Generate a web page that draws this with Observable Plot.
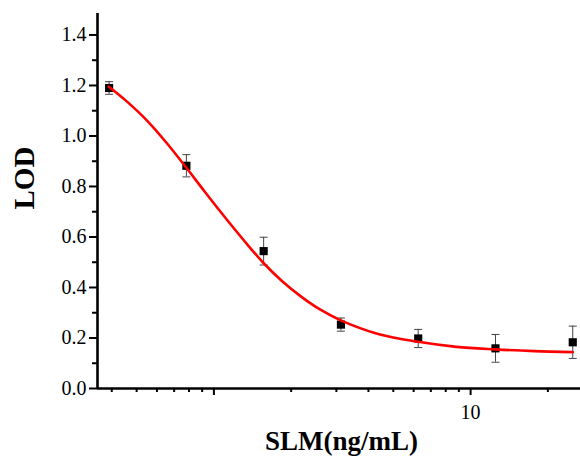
<!DOCTYPE html>
<html>
<head>
<meta charset="utf-8">
<script src="https://cdn.jsdelivr.net/npm/d3@7"></script>
<script src="https://cdn.jsdelivr.net/npm/@observablehq/plot@0.6"></script>
<style>
  html, body { margin: 0; padding: 0; background: #fff; }
  svg, svg text { font-family: "Liberation Serif", "Times New Roman", serif !important; }
</style>
</head>
<body>
<div id="chart"></div>
<script>
// Measured data (concentration in ng/mL, LOD value, error)
const conc = [0.390625, 0.78125, 1.5625, 3.125, 6.25, 12.5, 25];
const lod  = [1.19, 0.882, 0.544, 0.253, 0.198, 0.159, 0.183];
const err  = [0.025, 0.044, 0.055, 0.026, 0.036, 0.055, 0.064];

// Fitted curve
const fitX = [0.39, 0.46, 0.55, 0.65, 0.78, 0.92, 1.1, 1.3, 1.56, 1.85, 2.2, 2.6, 3.12, 4.4, 6.25, 8.8, 12.5, 17.7, 25];
const fitY = [1.195, 1.135, 1.06, 0.976, 0.875, 0.78, 0.68, 0.59, 0.497, 0.424, 0.362, 0.312, 0.27, 0.215, 0.185, 0.165, 0.155, 0.148, 0.144];

// Axes
const xDomain = [0.352, 26.8];
const yDomain = [0, 1.485];
const yTicks = [0, 0.2, 0.4, 0.6, 0.8, 1.0, 1.2, 1.4];
const yMinor = [0.1, 0.3, 0.5, 0.7, 0.9, 1.1, 1.3];
const xMajor = [1, 10];
const xMinor = [0.4, 0.5, 0.6, 0.7, 0.8, 0.9, 2, 3, 4, 5, 6, 7, 8, 9, 20];
const xLabel = "SLM(ng/mL)";
const yLabel = "LOD";

const serif = "Liberation Serif";
const points = conc.map((c, i) => ({conc: c, lod: lod[i], lo: lod[i] - err[i], hi: lod[i] + err[i]}));
const fit = fitX.map((x, i) => ({x, y: fitY[i]}));

const capSymbol = {
  draw(ctx, size) {
    const r = Math.sqrt(size / Math.PI);
    ctx.moveTo(-r, 0);
    ctx.lineTo(r, 0);
  }
};

const chart = Plot.plot({
  width: 580,
  height: 466,
  marginLeft: 97,
  marginRight: 0,
  marginTop: 13,
  marginBottom: 78,
  style: {fontFamily: serif, background: "#fff", color: "#000"},
  x: {type: "log", domain: xDomain},
  y: {domain: yDomain},
  marks: [
    Plot.axisY(yTicks, {tickSize: 8, tickPadding: 3, fontSize: 20, fontFamily: serif, tickFormat: d3.format(".1f"), strokeWidth: 2, label: null}),
    Plot.axisY(yMinor, {tickSize: 5, tickFormat: () => "", strokeWidth: 2, label: null}),
    Plot.axisX(xMinor, {tickSize: 4, tickFormat: () => "", strokeWidth: 2, label: null}),
    Plot.axisX(xMajor, {tickSize: 7, tickPadding: 9, fontSize: 20, fontFamily: serif, tickFormat: d => d === 10 ? "10" : "", strokeWidth: 2, label: null}),
    Plot.ruleY([yDomain[0]], {stroke: "#000", strokeWidth: 2.6}),
    Plot.ruleX([xDomain[0]], {stroke: "#000", strokeWidth: 2.6}),
    Plot.ruleX(points, {x: "conc", y1: "lo", y2: "hi", stroke: "#444", strokeWidth: 1}),
    Plot.dot(points, {x: "conc", y: "hi", symbol: capSymbol, r: 4, stroke: "#444", strokeWidth: 1, fill: "none"}),
    Plot.dot(points, {x: "conc", y: "lo", symbol: capSymbol, r: 4, stroke: "#444", strokeWidth: 1, fill: "none"}),
    Plot.dot(points, {x: "conc", y: "lod", symbol: "square", r: 4.6, fill: "#000", stroke: "none"}),
    Plot.line(fit, {x: "x", y: "y", curve: "catmull-rom", stroke: "#ff0000", strokeWidth: 2.6}),
    Plot.text([xLabel], {text: d => d, frameAnchor: "bottom", dy: 61, dx: 2.5, fontSize: 27, fontWeight: "bold", fontFamily: serif, fill: "#000"}),
    Plot.text([yLabel], {text: d => d, frameAnchor: "left", rotate: -90, dx: -73, dy: 8.5, fontSize: 29, fontWeight: "bold", fontFamily: serif, fill: "#000"})
  ]
});
document.getElementById("chart").appendChild(chart);
</script>
</body>
</html>
